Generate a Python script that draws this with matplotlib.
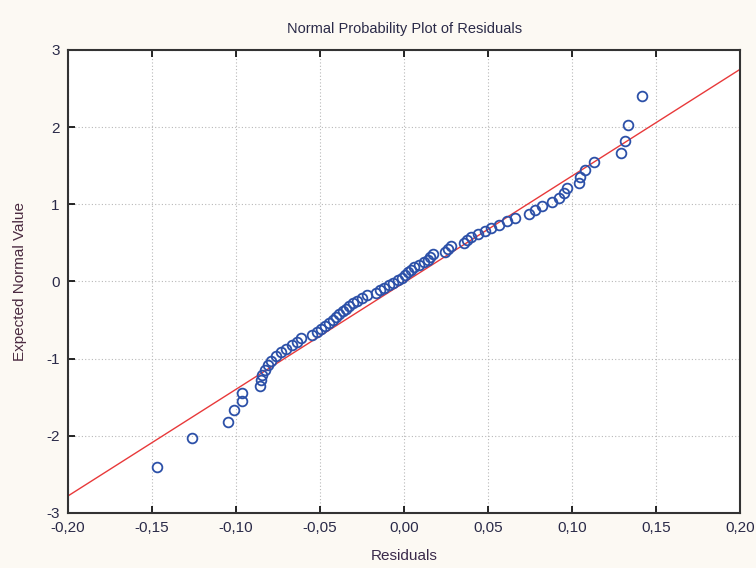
import numpy as np
import matplotlib
matplotlib.use("Agg")
import matplotlib.pyplot as plt

plt.rcParams['font.family'] = ['Liberation Sans', 'DejaVu Sans']
plt.rcParams['axes.unicode_minus'] = False

# sorted residuals (x) and their expected normal values (y)
residuals = [
    -0.1470, -0.1262, -0.1048, -0.1012, -0.0964, -0.0964, -0.0857, -0.0851,
    -0.0845, -0.0827, -0.0810, -0.0792, -0.0762, -0.0732, -0.0702, -0.0667,
    -0.0637, -0.0613, -0.0548, -0.0518, -0.0494, -0.0470, -0.0446, -0.0423,
    -0.0405, -0.0387, -0.0363, -0.0345, -0.0327, -0.0304, -0.0280, -0.0250,
    -0.0220, -0.0167, -0.0143, -0.0119, -0.0089, -0.0065, -0.0036, -0.0012,
    0.0006, 0.0024, 0.0042, 0.0060, 0.0089, 0.0119, 0.0143, 0.0155,
    0.0173, 0.0244, 0.0262, 0.0280, 0.0357, 0.0375, 0.0399, 0.0440,
    0.0482, 0.0518, 0.0565, 0.0613, 0.0661, 0.0744, 0.0780, 0.0821,
    0.0881, 0.0923, 0.0952, 0.0970, 0.1042, 0.1048, 0.1077, 0.1131,
    0.1292, 0.1315, 0.1333, 0.1417,
]
expected = [
    -2.400, -2.027, -1.820, -1.669, -1.549, -1.449, -1.360, -1.282,
    -1.210, -1.145, -1.083, -1.026, -0.972, -0.920, -0.871, -0.824,
    -0.779, -0.735, -0.693, -0.651, -0.611, -0.573, -0.534, -0.496,
    -0.459, -0.423, -0.387, -0.352, -0.318, -0.284, -0.249, -0.216,
    -0.182, -0.149, -0.116, -0.082, -0.049, -0.016,
    0.016, 0.049, 0.082, 0.116, 0.149, 0.182, 0.216, 0.249,
    0.284, 0.318, 0.352, 0.387, 0.423, 0.459, 0.496, 0.534,
    0.573, 0.611, 0.651, 0.693, 0.735, 0.779, 0.824, 0.871,
    0.920, 0.972, 1.026, 1.083, 1.145, 1.210, 1.282, 1.360,
    1.449, 1.549, 1.669, 1.820, 2.027, 2.400,
]

# reference line end points
line_x = [-0.20, 0.20]
line_y = [-2.78, 2.75]

x_ticks = [-0.20, -0.15, -0.10, -0.05, 0.00, 0.05, 0.10, 0.15, 0.20]
x_labels = ['-0,20', '-0,15', '-0,10', '-0,05', '0,00', '0,05', '0,10', '0,15', '0,20']
y_ticks = [-3, -2, -1, 0, 1, 2, 3]

txt = '#2a2a48'

fig = plt.figure(figsize=(7.56, 5.68), dpi=100, facecolor='#fcf9f3')
ax = fig.add_axes([0.090, 0.097, 0.889, 0.815])
ax.set_facecolor('white')

ax.plot(line_x, line_y, color='#e8393a', lw=1.0, zorder=2)
ax.plot(residuals, expected, linestyle='none', marker='o', markersize=7,
        markerfacecolor='none', markeredgecolor='#2c50a8', markeredgewidth=1.3, zorder=3)

ax.set_xlim(-0.20, 0.20)
ax.set_ylim(-3, 3)
ax.set_xticks(x_ticks)
ax.set_xticklabels(x_labels)
ax.set_yticks(y_ticks)
ax.grid(True, linestyle=(0, (1, 2)), color='#b8b8b8', lw=0.8)
ax.tick_params(direction='in', top=True, right=False, length=5, width=1.2,
               labelsize=11, labelcolor=txt, pad=6)
for s in ax.spines.values():
    s.set_linewidth(1.5)
    s.set_color('#333333')

ax.set_title('Normal Probability Plot of Residuals', fontsize=10.5, color=txt, pad=12)
ax.set_xlabel('Residuals', fontsize=11, color='#3a2a4a', labelpad=10)
ax.set_ylabel('Expected Normal Value', fontsize=11, color='#4a2a40', labelpad=14)

plt.savefig('out.png', dpi=100, facecolor=fig.get_facecolor())
